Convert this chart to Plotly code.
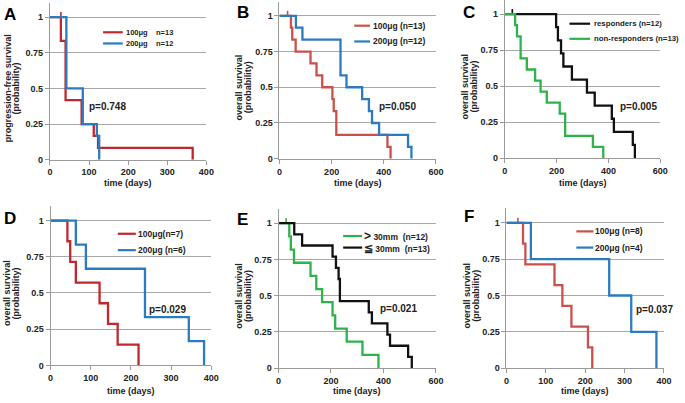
import plotly.graph_objects as go

W, H = 685, 403

# ---------------- data ----------------
# Panel A: progression-free survival
a_100_t = [0, 28, 40, 81, 112, 123, 365]
a_100_s = [1, 0.833, 0.417, 0.25, 0.167, 0.083, 0]
a_100_cens = [28]
a_200_t = [0, 42, 84, 120, 126]
a_200_s = [1, 0.5, 0.25, 0.167, 0]

# Panel B: overall survival by dose
b_100_t = [0, 44, 49, 62, 119, 142, 164, 203, 208, 218, 414, 426]
b_100_s = [1, 0.917, 0.833, 0.75, 0.667, 0.583, 0.5, 0.417, 0.333, 0.167, 0.083, 0]
b_100_cens = [31]
b_200_t = [0, 63, 88, 234, 257, 317, 343, 355, 382, 493, 506]
b_200_s = [1, 0.917, 0.833, 0.583, 0.5, 0.417, 0.333, 0.25, 0.167, 0.083, 0]

# Panel C: responders vs non-responders
c_resp_t = [0, 198, 205, 217, 226, 259, 317, 347, 413, 421, 494, 502]
c_resp_s = [1, 0.909, 0.818, 0.727, 0.636, 0.545, 0.455, 0.364, 0.273, 0.182, 0.091, 0]
c_resp_cens = [29]
c_non_t = [0, 40, 47, 61, 85, 117, 138, 162, 212, 233, 340, 380]
c_non_s = [1, 0.923, 0.846, 0.692, 0.615, 0.538, 0.462, 0.385, 0.308, 0.154, 0.077, 0]

# Panel D
d_100_t = [0, 42, 49, 63, 122, 143, 167, 219]
d_100_s = [1, 0.857, 0.714, 0.571, 0.429, 0.286, 0.143, 0]
d_200_t = [0, 63, 88, 235, 344, 382]
d_200_s = [1, 0.833, 0.667, 0.333, 0.167, 0]

# Panel E: tumour size
e_gt_t = [0, 41, 47, 59, 122, 144, 166, 206, 216, 260, 320, 381]
e_gt_s = [1, 0.909, 0.818, 0.727, 0.636, 0.545, 0.455, 0.364, 0.273, 0.182, 0.091, 0]
e_gt_cens = [29]
e_le_t = [0, 60, 90, 206, 219, 229, 234, 344, 356, 415, 425, 494, 508]
e_le_s = [1, 0.923, 0.846, 0.769, 0.692, 0.615, 0.462, 0.385, 0.308, 0.231, 0.154, 0.077, 0]

# Panel F
f_100_t = [0, 42, 48, 122, 142, 165, 207, 218]
f_100_s = [1, 0.857, 0.714, 0.571, 0.429, 0.286, 0.143, 0]
f_100_cens = [29]
f_200_t = [0, 62, 261, 317, 381]
f_200_s = [1, 0.75, 0.5, 0.25, 0]

y_tickvals = [0, 0.25, 0.5, 0.75, 1]
y_ticktext = ["0", "0.25", "0.5", "0.75", "1"]

p_values = ["p=0.748", "p=0.050", "p=0.005", "p=0.029", "p=0.021", "p=0.037"]

# ---------------- styles ----------------
RED_D = "#c1272d"
RED_L = "#c9504b"
BLUE = "#2b7bc0"
GREEN = "#2db34a"
BLACK = "#111111"
FONT = "Liberation Sans, Arial, sans-serif"
NB = "\u00a0"

panels = [
    dict(letter="A", geom=(47.7, 206.7, 161.7, 17.3), xmax=400, dtick=100,
         curves=[(a_100_t, a_100_s, RED_D, a_100_cens), (a_200_t, a_200_s, BLUE, [])],
         p=(94, 0.372), ytitle=["progression-free survival", "(probability)"],
         ytx=(5, 13.3), xt=23.3, letter_pos=(7.5, 14.2),
         leg=dict(x0=101.7, x1=121.7, tx=122.7, ys=[32.7, 44], fs=7.5,
                  items=[("100μg" + NB * 4 + "n=13", RED_D), ("200μg" + NB * 4 + "n=12", BLUE)])),
    dict(letter="B", geom=(281, 440, 160.7, 16), xmax=600, dtick=200,
         curves=[(b_100_t, b_100_s, RED_L, b_100_cens), (b_200_t, b_200_s, BLUE, [])],
         p=(374, 0.362), ytitle=["overall survival", "(probability)"],
         ytx=(240, 249), xt=24.3, letter_pos=(243.8, 12.2),
         leg=dict(x0=357, x1=373, tx=374, ys=[26, 42], fs=8.5,
                  items=[("100μg" + NB + "(n=13)", RED_L), ("200μg" + NB + "(n=12)", BLUE)])),
    dict(letter="C", geom=(510, 668, 160, 14.3), xmax=600, dtick=200,
         curves=[(c_resp_t, c_resp_s, BLACK, c_resp_cens), (c_non_t, c_non_s, GREEN, [])],
         p=(437, 0.355), ytitle=["overall survival", "(probability)"],
         ytx=(470, 479), xt=25, letter_pos=(473.3, 12.2),
         leg=dict(x0=575.7, x1=596.7, tx=599, ys=[24, 39.3], fs=7.8,
                  items=[("responders (n=12)", BLACK), ("non-responders (n=13)", GREEN)])),
    dict(letter="D", geom=(48.3, 211.7, 370, 223.3), xmax=400, dtick=100,
         curves=[(d_100_t, d_100_s, RED_D, []), (d_200_t, d_200_s, BLUE, [])],
         p=(241, 0.387), ytitle=["overall survival", "(probability)"],
         ytx=(4, 12.7), xt=25.5, letter_pos=(7.5, 220.8),
         leg=dict(x0=116.7, x1=135, tx=135, ys=[236.7, 253.3], fs=8.5,
                  items=[("100μg(n=7)", RED_D), ("200μg" + NB + "(n=6)", BLUE)])),
    dict(letter="E", geom=(280, 440, 372.7, 226), xmax=600, dtick=200,
         curves=[(e_gt_t, e_gt_s, GREEN, e_gt_cens), (e_le_t, e_le_s, BLACK, [])],
         p=(381, 0.409), ytitle=["overall survival", "(probability)"],
         ytx=(239, 248.3), xt=23, letter_pos=(243.3, 222.2),
         leg=dict(x0=345.7, x1=365, tx=365, ys=[239, 250.7], fs=8.5,
                  items=[("<span style='font-size:12px'>&gt;</span>" + NB + "30mm" + NB * 2 + "(n=12)", GREEN),
                         ("<span style='font-size:11px'>≦</span>" + NB + "30mm" + NB * 2 + "(n=13)", BLACK)])),
    dict(letter="F", geom=(511.7, 671.7, 372.7, 225.7), xmax=400, dtick=100,
         curves=[(f_100_t, f_100_s, RED_L, f_100_cens), (f_200_t, f_200_s, BLUE, [])],
         p=(323, 0.404), ytitle=["overall survival", "(probability)"],
         ytx=(471.7, 481), xt=23, letter_pos=(473.3, 219.7),
         leg=dict(x0=582.7, x1=600, tx=600, ys=[234.3, 250.7], fs=8.5,
                  items=[("100μg" + NB + "(n=8)", RED_L), ("200μg" + NB + "(n=4)", BLUE)])),
]


def px(xp):
    return xp / W


def py(yp):
    return 1 - yp / H


fig = go.Figure()
layout = dict(width=W, height=H, margin=dict(l=0, r=0, t=0, b=0),
              paper_bgcolor="white", plot_bgcolor="white", showlegend=False,
              font=dict(family=FONT, color="#222"))
annotations = []
shapes = []

for i, pn in enumerate(panels, start=1):
    x0p, x1p, y0p, y1p = pn["geom"]
    span = y0p - y1p
    ymax = min(1.1, y0p / span)
    top = y0p - ymax * span
    xa = "x" if i == 1 else f"x{i}"
    ya = "y" if i == 1 else f"y{i}"
    xkey = "xaxis" if i == 1 else f"xaxis{i}"
    ykey = "yaxis" if i == 1 else f"yaxis{i}"
    layout[xkey] = dict(domain=[px(x0p), px(x1p)], range=[0, pn["xmax"]], anchor=ya,
                        tickmode="linear", tick0=0, dtick=pn["dtick"],
                        showline=True, linecolor="#9a9a9a", linewidth=1,
                        ticks="outside", ticklen=4, tickcolor="#9a9a9a",
                        showgrid=False, zeroline=False,
                        tickfont=dict(size=9, family=FONT, weight="bold", color="#222"))
    layout[ykey] = dict(domain=[py(y0p), py(top)], range=[0, ymax], anchor=xa,
                        tickvals=y_tickvals, ticktext=y_ticktext,
                        showline=True, linecolor="#9a9a9a", linewidth=1,
                        ticks="outside", ticklen=4, tickcolor="#9a9a9a",
                        showgrid=True, gridcolor="#a8a8a8", gridwidth=1, zeroline=False,
                        tickfont=dict(size=9, family=FONT, weight="bold", color="#222"))
    for (t, s, col, cens) in pn["curves"]:
        fig.add_trace(go.Scatter(x=t, y=s, mode="lines", line=dict(color=col, width=2.3, shape="hv"),
                                 xaxis=xa, yaxis=ya, hoverinfo="skip"))
        if cens:
            fig.add_trace(go.Scatter(x=cens, y=[1] * len(cens), mode="markers",
                                     marker=dict(size=1, color=col),
                                     error_y=dict(type="data", symmetric=False,
                                                  array=[0.035] * len(cens), arrayminus=[0] * len(cens),
                                                  color=col, thickness=1.6, width=0),
                                     xaxis=xa, yaxis=ya, hoverinfo="skip"))
    # p value
    annotations.append(dict(x=pn["p"][0], y=pn["p"][1], xref=xa, yref=ya, text=p_values[i - 1],
                            showarrow=False, xanchor="left", yanchor="middle",
                            font=dict(size=10, family=FONT, weight="bold", color="#222")))
    # panel letter
    lx, ly = pn["letter_pos"]
    annotations.append(dict(x=px(lx), y=py(ly), xref="paper", yref="paper", text=pn["letter"],
                            showarrow=False, xanchor="center", yanchor="middle",
                            font=dict(size=17, family=FONT, weight="bold", color="#000")))
    # y title (two lines)
    ymid = py(y0p - 0.5 * span)
    for txt, xx in zip(pn["ytitle"], pn["ytx"]):
        annotations.append(dict(x=px(xx), y=ymid, xref="paper", yref="paper", text=txt,
                                textangle=-90, showarrow=False, xanchor="center", yanchor="middle",
                                font=dict(size=9, family=FONT, weight="bold", color="#222")))
    # x title
    annotations.append(dict(x=px((x0p + x1p) / 2), y=py(y0p + pn["xt"]), xref="paper", yref="paper",
                            text="time (days)", showarrow=False, xanchor="center", yanchor="middle",
                            font=dict(size=9, family=FONT, weight="bold", color="#222")))
    # legend
    lg = pn["leg"]
    for (txt, col), yy in zip(lg["items"], lg["ys"]):
        shapes.append(dict(type="line", xref="paper", yref="paper",
                           x0=px(lg["x0"]), x1=px(lg["x1"]), y0=py(yy), y1=py(yy),
                           line=dict(color=col, width=2.2)))
        annotations.append(dict(x=px(lg["tx"]), y=py(yy), xref="paper", yref="paper", text=txt,
                                showarrow=False, xanchor="left", yanchor="middle",
                                font=dict(size=lg["fs"], family=FONT, weight="bold", color="#222")))

layout["annotations"] = annotations
layout["shapes"] = shapes
fig.update_layout(**layout)
fig.write_html("out.html", config={"displayModeBar": False},
               post_script="document.body.style.margin='0';document.body.style.overflow='hidden';")
